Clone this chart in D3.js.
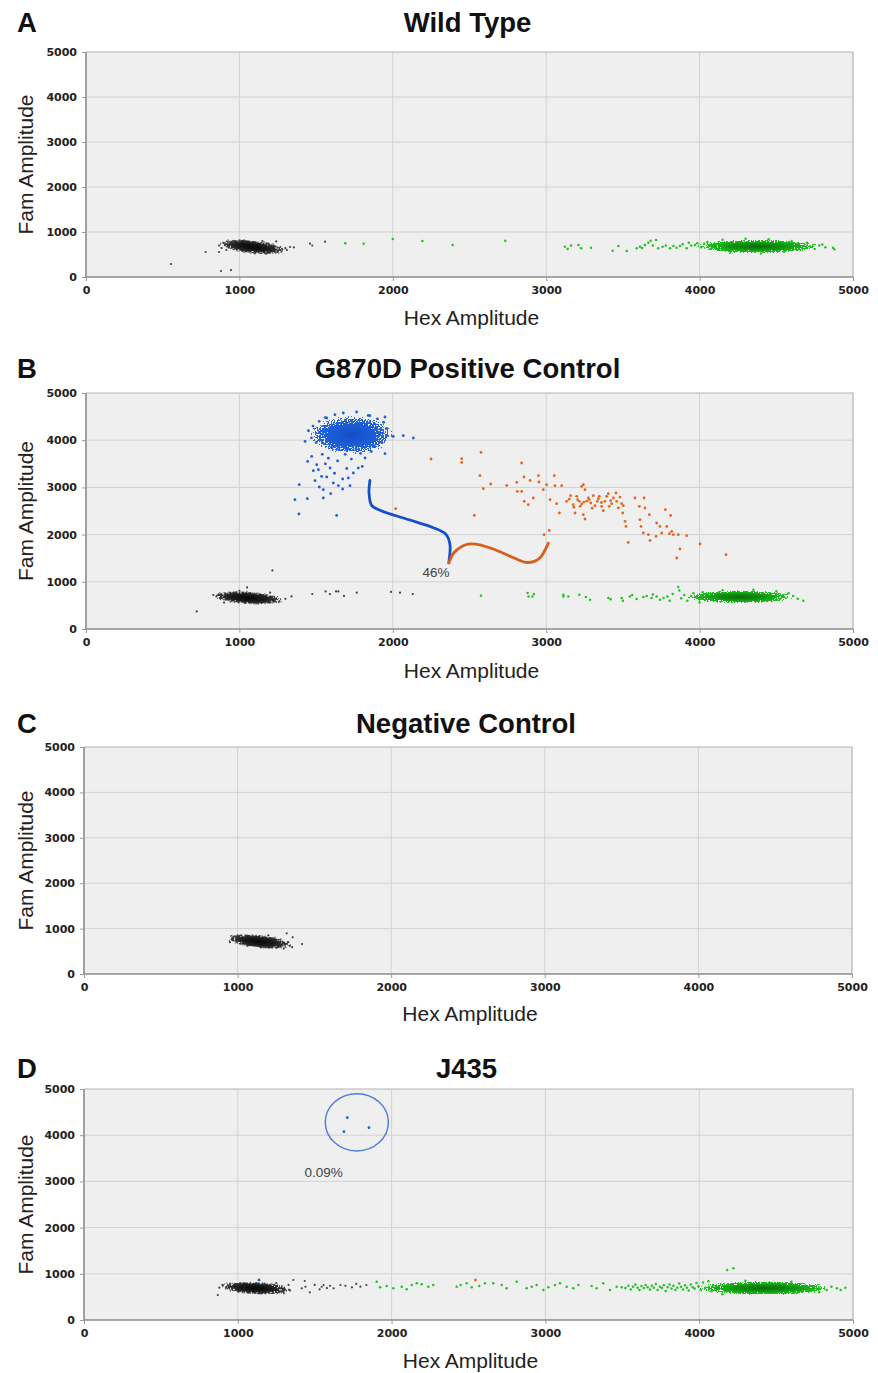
<!DOCTYPE html>
<meta charset="utf-8">
<script src="https://d3js.org/d3.v7.min.js"></script>
<style>
  body { margin: 0; background: #fff; }
  .tick text { font-family: "DejaVu Sans", Verdana, sans-serif; font-weight: bold; font-size: 11px; fill: #222; }
  .tick line { stroke: #999; }
  .domain { stroke: none; }
  .title { font-family: "Liberation Sans", Arial, sans-serif; font-weight: bold; font-size: 27.5px; fill: #111; }
  .axis-label { font-family: "Liberation Sans", Arial, sans-serif; font-size: 21px; fill: #222; }
  .pct { font-family: "Liberation Sans", Arial, sans-serif; font-size: 13.5px; fill: #444; }
</style>
<div id="chart"></div>
<script>
  // ---- data (Hex amplitude, Fam amplitude) ----
  var hexTicks = [0, 1000, 2000, 3000, 4000, 5000];
  var famTicks = [0, 1000, 2000, 3000, 4000, 5000];
  var panelLetters = ["A", "B", "C", "D"];
  var panelTitles = ["Wild Type", "G870D Positive Control", "Negative Control", "J435"];
  var xLabel = "Hex Amplitude";
  var yLabel = "Fam Amplitude";

  // dense droplet clouds: [hex centre, fam centre, hex spread, fam spread, tilt]
  var aNegCore = [1085, 670, 235, 170, 6];
  var aWtCore = [4380, 680, 430, 165, 0];
  var bNegCore = [1055, 660, 250, 150, 4];
  var bMutCore = [1730, 4110, 295, 440, 0];
  var bWtCore = [4265, 680, 380, 150, 0];
  var cNegCore = [1140, 715, 230, 165, 6];
  var dNegCore = [1115, 690, 250, 150, 3];
  var dWtCore = [4420, 690, 470, 160, 0];

  // single droplets
  var aNegPts = [[554,289],[880,133],[945,155],[780,555],[867,555],[867,700],[884,645],[895,760],[1330,667],[1355,660],
    [1460,740],[1475,700],[1558,785],[905,720],[915,600],[1250,560],[1280,610],[1300,640],[1240,790],[960,790],
    [1000,810],[1150,800],[1200,545],[1100,525],[930,650],[1310,600]];
  var aWtPts = [[1690,748],[1810,740],[2000,845],[2193,800],[2390,710],[2733,807],[3122,673],[3140,620],[3162,700],
    [3210,710],[3228,640],[3292,650],[3433,585],[3470,690],[3525,580],[3590,637],[3611,673],[3625,645],[3644,711],
    [3666,762],[3681,807],[3695,700],[3716,822],[3730,640],[3759,673],[3780,700],[3807,637],[3830,690],[3850,650],
    [3872,689],[3890,730],[3916,637],[3930,760],[3945,700],[3970,711],[3985,750],[4010,660],[4030,740],[4050,780],
    [4070,620],[4820,660],[4870,650],[4878,615],[4780,700],[4750,620],[4700,760],[4150,830],[4300,850],[4450,840],
    [4600,800],[4200,540],[4400,520],[4550,560],[4720,680],[4800,720]];

  var bNegPts = [[722,373],[1215,1241],[1475,741],[1562,797],[1590,740],[1630,797],[1645,797],[1682,700],[1765,770],
    [1988,785],[2047,770],[2130,740],[830,720],[850,690],[1300,640],[1340,690],[1260,580],[1050,880],[1000,810],
    [900,560],[1200,770]];
  var bMutPts = [[1445,3551],[1504,3481],[1482,3354],[1515,3375],[1536,3233],[1493,3142],[1569,3220],[1591,3411],
    [1612,3093],[1645,3036],[1673,2966],[1710,3199],[1721,3036],[1743,3305],[1775,3411],[1801,3445],[1819,3623],
    [1547,2951],[1521,3008],[1595,2866],[1547,2775],[1443,2761],[1362,2740],[1390,3057],[1388,2436],[1634,2407],
    [1673,3178],[1949,3714],[2003,4081],[2068,4095],[2134,4047],[1428,3975],[1471,3657],[1764,4597],[1840,4525],
    [1949,4491],[1623,4540],[1677,4576],[1569,4470],[1450,4200],[1470,4050],[1480,4300],[1500,3950],[1520,4400],
    [1560,4480],[1600,3850],[1650,3800],[1700,3780],[1760,3820],[1820,3850],[1880,3880],[1930,3950],[1960,4100],
    [1960,4250],[1940,4380],[1900,4450],[1850,4520],[1540,3700],[1580,3620],[1640,3560],[1690,3700],[1730,3600],
    [1790,3720],[1860,3760],[1620,3300],[1700,3400],[1560,3500]];
  var bDblPts = [[2249,3602],[2019,2549],[2449,3608],[2449,3530],[2575,3741],[2840,3517],[2568,3248],[2590,2972],
    [2638,3072],[2743,3042],[2808,3106],[2855,3220],[2895,3148],[2949,3248],[2953,3114],[3003,3057],[3053,3248],
    [3057,3036],[3101,3036],[2812,2915],[2840,2915],[2916,2775],[2857,2704],[2883,2633],[2981,2951],[3025,2740],
    [3068,2655],[3086,2458],[2531,2407],[2986,1998],[3020,2089],[3133,2704],[3159,2824],[3176,2633],[3199,2810],
    [3216,2704],[3231,3022],[3242,3057],[3221,2598],[3231,2648],[3253,2951],[3264,2704],[3188,2458],[3242,2422],
    [3253,2331],[3275,2775],[3290,2669],[3307,2824],[3318,2612],[3333,2704],[3346,2810],[3362,2598],[3372,2507],
    [3383,2704],[3394,2810],[3405,2867],[3411,2598],[3427,2655],[3438,2775],[3455,2881],[3459,2704],[3470,2564],
    [3481,2796],[3492,2655],[3499,2458],[3503,2612],[3514,2280],[3520,2174],[3535,1835],[3579,2775],[3607,2598],
    [3611,2316],[3618,2174],[3638,2775],[3644,2564],[3633,2034],[3666,1998],[3677,1877],[3672,2422],[3720,2246],
    [3716,1962],[3742,2174],[3753,2034],[3777,2528],[3786,2174],[3803,2019],[3811,2407],[3818,2068],[3829,1998],
    [3861,1998],[3916,1977],[3872,1695],[3851,1504],[4003,1801],[4172,1574],[3150,2750],[3205,2740],[3245,2690],
    [3280,2740],[3300,2560],[3340,2760],[3360,2680],[3420,2720],[3180,2580]];
  var bWtPts = [[2575,706],[2879,763],[2885,690],[2910,690],[2920,740],[3112,727],[3112,690],[3144,691],[3216,727],
    [3259,678],[3286,621],[3405,657],[3420,630],[3492,657],[3500,600],[3546,691],[3560,720],[3590,636],[3633,678],
    [3655,700],[3687,657],[3695,730],[3720,690],[3742,621],[3765,657],[3790,690],[3805,600],[3825,740],[3861,890],
    [3868,818],[3880,650],[3900,720],[3920,600],[3945,700],[3960,760],[4676,600],[4640,640],[4610,700],[4580,760],
    [4000,560],[4150,820],[4350,830],[4500,800],[3980,660],[4020,780]];

  var cNegPts = [[1320,895],[1359,807],[1420,660],[1355,590],[960,760],[950,700],[1340,620],[1300,560],[1000,850],
    [1200,850],[1330,700]];

  var dNegPts = [[870,540],[880,700],[1361,866],[1416,686],[1440,720],[1435,844],[1468,599],[1500,760],[1532,664],
    [1545,720],[1558,758],[1580,690],[1600,740],[1623,686],[1667,758],[1700,740],[1742,708],[1770,780],[1797,722],
    [1836,758],[1340,640],[1330,760],[900,760],[1300,580],[1250,800]];
  var dMutPts = [[1712,4379],[1690,4076],[1853,4163],[1138,866]];
  var dDblPts = [[2545,866]];
  var dWtPts = [[1903,830],[1925,707],[1968,736],[2011,685],[2066,721],[2098,664],[2131,758],[2163,794],[2196,772],
    [2239,721],[2271,758],[2423,721],[2449,758],[2488,794],[2521,707],[2570,736],[2607,794],[2661,794],[2716,758],
    [2748,685],[2813,830],[2878,685],[2911,721],[2943,758],[2987,649],[3019,707],[3062,758],[3095,794],[3138,721],
    [3181,685],[3214,758],[3301,736],[3333,685],[3376,794],[3420,649],[3463,721],[3496,707],[3520,690],[3540,740],
    [3555,660],[3570,720],[3585,770],[3600,700],[3612,650],[3625,735],[3640,690],[3652,760],[3665,710],[3680,660],
    [3692,740],[3705,700],[3718,780],[3730,650],[3745,720],[3758,690],[3770,750],[3782,630],[3795,710],[3808,770],
    [3820,680],[3832,740],[3845,650],[3858,700],[3870,790],[3882,720],[3895,660],[3908,750],[3920,700],[3932,640],
    [3945,770],[3958,710],[3970,680],[3982,800],[3995,730],[4010,650],[4025,810],[4040,700],[4060,840],[4080,620],
    [4182,1082],[4222,1119],[4896,686],[4920,650],[4950,700],[4860,720],[4830,650],[4150,560],[4300,850],[4600,830],
    [4780,600]];

  // hand-drawn annotations
  var bMutCurve = [[1851,3150],[1845,2880],[1862,2620],[1920,2510],[2100,2320],[2260,2150],[2345,2010],[2372,1800],[2365,1400]];
  var bDblCurve = [[2365,1400],[2400,1620],[2470,1780],[2540,1800],[2650,1700],[2780,1520],[2870,1410],[2950,1480],[3014,1820]];
  var bPctLabel = [2282, 1108, "46%"];
  var dRing = [1774, 4279, 205, 620];
  var dPctLabel = [1558, 3095, "0.09%"];

  // ---- drawing ----
  var W = 878, H = 1373;
  var frames = [[86, 52, 853, 277], [86, 393, 853, 629], [84, 747, 852, 974], [84, 1089, 853, 1320]];
  var titleY = [32, 378, 733, 1078];
  var xLabelY = [325, 678, 1021, 1368];

  var colors = { neg: "#444444", wt: "#22c422", mut: "#1f5ed8", dbl: "#e8641e" };
  var dotR = { neg: 1.1, wt: 1.25, mut: 1.4, dbl: 1.4 };
  var gradStops = {
    neg: [["0%", "#070707", 1], ["45%", "#1a1a1a", 0.98], ["75%", "#363636", 0.7], ["100%", "#555", 0]],
    wt: [["0%", "#0a680a", 1], ["40%", "#0f930f", 0.98], ["75%", "#1cbc1c", 0.7], ["100%", "#2ccc2c", 0]],
    mut: [["0%", "#1450c6", 1], ["45%", "#1b5bd4", 0.95], ["75%", "#2565da", 0.6], ["100%", "#3575e0", 0]]
  };

  var panels = [
    { cores: [["neg", aNegCore], ["wt", aWtCore]], pts: [["neg", aNegPts], ["wt", aWtPts]] },
    { cores: [["neg", bNegCore], ["mut", bMutCore], ["wt", bWtCore]],
      pts: [["neg", bNegPts], ["mut", bMutPts], ["dbl", bDblPts], ["wt", bWtPts]],
      curves: [["mut", bMutCurve], ["dbl", bDblCurve]], label: bPctLabel },
    { cores: [["neg", cNegCore]], pts: [["neg", cNegPts]] },
    { cores: [["neg", dNegCore], ["wt", dWtCore]], pts: [["neg", dNegPts], ["wt", dWtPts], ["mut", dMutPts], ["dbl", dDblPts]],
      ring: dRing, label: dPctLabel }
  ];

  var svg = d3.select("#chart").append("svg")
    .attr("width", W)
    .attr("height", H)
    .style("background", "#fff");

  var defs = svg.append("defs");
  Object.keys(gradStops).forEach(function (k) {
    var grad = defs.append("radialGradient").attr("id", "core-" + k);
    gradStops[k].forEach(function (s) {
      grad.append("stop").attr("offset", s[0]).attr("stop-color", s[1]).attr("stop-opacity", s[2]);
    });
  });

  // grainy filter: turns the smooth clouds into speckled droplets, solid in the middle, thinner at the rim
  var speckle = defs.append("filter").attr("id", "speckle")
    .attr("x", "-10%").attr("y", "-30%").attr("width", "120%").attr("height", "160%");
  speckle.append("feTurbulence").attr("type", "fractalNoise").attr("baseFrequency", 0.7)
    .attr("numOctaves", 1).attr("seed", 4).attr("result", "noise");
  speckle.append("feColorMatrix").attr("in", "noise").attr("type", "matrix")
    .attr("values", "0 0 0 0 0  0 0 0 0 0  0 0 0 0 0  3 0 0 0 -1").attr("result", "noiseA");
  speckle.append("feComposite").attr("in", "SourceAlpha").attr("in2", "noiseA").attr("operator", "arithmetic")
    .attr("k1", 0).attr("k2", 1.3).attr("k3", 0.8).attr("k4", -0.6).attr("result", "mix");
  speckle.append("feComponentTransfer").attr("in", "mix").attr("result", "mask")
    .append("feFuncA").attr("type", "discrete").attr("tableValues", "0 1");
  speckle.append("feComponentTransfer").attr("in", "SourceGraphic").attr("result", "solid")
    .append("feFuncA").attr("type", "discrete").attr("tableValues", "0 1 1 1 1 1 1 1 1 1 1 1");
  speckle.append("feComposite").attr("in", "solid").attr("in2", "mask").attr("operator", "in");

  panels.forEach(function (p, i) {
    var f = frames[i];
    var x = d3.scaleLinear().domain([0, 5000]).range([f[0], f[2]]);
    var y = d3.scaleLinear().domain([0, 5000]).range([f[3], f[1]]);
    var g = svg.append("g");

    // plot background
    g.append("rect")
      .attr("x", f[0]).attr("y", f[1])
      .attr("width", f[2] - f[0]).attr("height", f[3] - f[1])
      .attr("fill", "#efefef");

    // grid
    g.selectAll(".vg").data(hexTicks.slice(1, -1)).enter().append("line")
      .attr("x1", function (d) { return x(d); }).attr("x2", function (d) { return x(d); })
      .attr("y1", f[1]).attr("y2", f[3])
      .attr("stroke", "#d2d2d2").attr("stroke-width", 1);
    g.selectAll(".hg").data(famTicks.slice(1, -1)).enter().append("line")
      .attr("x1", f[0]).attr("x2", f[2])
      .attr("y1", function (d) { return y(d); }).attr("y2", function (d) { return y(d); })
      .attr("stroke", "#d2d2d2").attr("stroke-width", 1);

    // frame
    g.append("path")
      .attr("d", "M" + f[0] + "," + f[1] + "H" + f[2] + "V" + f[3])
      .attr("fill", "none").attr("stroke", "#b4b4b4").attr("stroke-width", 1.2);
    g.append("path")
      .attr("d", "M" + f[0] + "," + f[1] + "V" + f[3] + "H" + f[2])
      .attr("fill", "none").attr("stroke", "#8c8c8c").attr("stroke-width", 1.6);

    // axes
    g.append("g")
      .attr("transform", "translate(0," + f[3] + ")")
      .call(d3.axisBottom(x).tickValues(hexTicks).tickSize(4).tickPadding(5).tickFormat(d3.format("d")));
    g.append("g")
      .attr("transform", "translate(" + f[0] + ",0)")
      .call(d3.axisLeft(y).tickValues(famTicks).tickSize(4).tickPadding(5).tickFormat(d3.format("d")));

    // dense clouds
    g.selectAll(".core").data(p.cores).enter().append("ellipse")
      .attr("cx", function (d) { return x(d[1][0]); })
      .attr("cy", function (d) { return y(d[1][1]); })
      .attr("rx", function (d) { return x(d[1][0] + d[1][2]) - x(d[1][0]); })
      .attr("ry", function (d) { return y(d[1][1]) - y(d[1][1] + d[1][3]); })
      .attr("transform", function (d) { return "rotate(" + d[1][4] + "," + x(d[1][0]) + "," + y(d[1][1]) + ")"; })
      .attr("fill", function (d) { return "url(#core-" + d[0] + ")"; })
      .attr("filter", "url(#speckle)");

    // single droplets
    p.pts.forEach(function (set) {
      g.append("g").selectAll("circle").data(set[1]).enter().append("circle")
        .attr("cx", function (d) { return x(d[0]); })
        .attr("cy", function (d) { return y(d[1]); })
        .attr("r", dotR[set[0]])
        .attr("fill", colors[set[0]]);
    });

    // annotation curves
    var line = d3.line()
      .x(function (d) { return x(d[0]); })
      .y(function (d) { return y(d[1]); })
      .curve(d3.curveCatmullRom.alpha(0.5));
    (p.curves || []).forEach(function (c) {
      g.append("path")
        .attr("d", line(c[1]))
        .attr("fill", "none")
        .attr("stroke", c[0] === "mut" ? "#1450c8" : "#d65f1c")
        .attr("stroke-width", 2.8)
        .attr("stroke-linecap", "round");
    });

    if (p.ring) {
      g.append("ellipse")
        .attr("cx", x(p.ring[0])).attr("cy", y(p.ring[1]))
        .attr("rx", x(p.ring[0] + p.ring[2]) - x(p.ring[0]))
        .attr("ry", y(p.ring[1]) - y(p.ring[1] + p.ring[3]))
        .attr("fill", "none").attr("stroke", "#4f7fdc").attr("stroke-width", 1.5);
    }
    if (p.label) {
      g.append("text").attr("class", "pct")
        .attr("x", x(p.label[0])).attr("y", y(p.label[1]))
        .attr("text-anchor", "middle")
        .text(p.label[2]);
    }

    // titles and axis labels
    svg.append("text").attr("class", "title")
      .attr("x", 17).attr("y", titleY[i])
      .text(panelLetters[i]);
    svg.append("text").attr("class", "title")
      .attr("x", (f[0] + f[2]) / 2 - 2).attr("y", titleY[i])
      .attr("text-anchor", "middle")
      .text(panelTitles[i]);
    svg.append("text").attr("class", "axis-label")
      .attr("x", (f[0] + f[2]) / 2 + 2).attr("y", xLabelY[i])
      .attr("text-anchor", "middle")
      .text(xLabel);
    svg.append("text").attr("class", "axis-label")
      .attr("transform", "translate(33," + (f[1] + f[3]) / 2 + ") rotate(-90)")
      .attr("text-anchor", "middle")
      .text(yLabel);
  });
</script>
